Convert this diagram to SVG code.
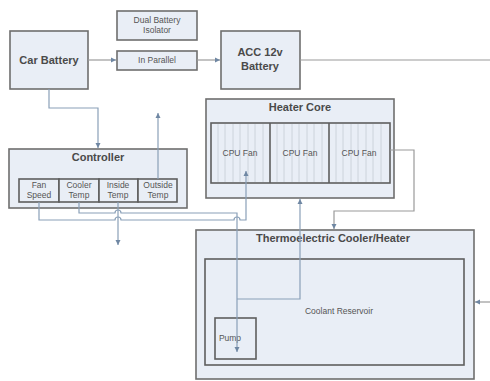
<svg xmlns="http://www.w3.org/2000/svg" width="490" height="381" viewBox="0 0 490 381">
<defs>
<style>
.box{fill:#e9eef6;stroke:#6e6e6e;stroke-width:1.6}
.inner{fill:#e9eef6;stroke:#5e5e5e;stroke-width:1.6}
.t{font-family:"Liberation Sans",Arial,sans-serif;font-weight:bold;font-size:11px;fill:#4a4a4a;text-anchor:middle}
.s{font-family:"Liberation Sans",Arial,sans-serif;font-size:8.5px;fill:#555;text-anchor:middle}
.c{fill:none;stroke:#8aa0b8;stroke-width:1.2}
.g{fill:none;stroke:#9a9a9a;stroke-width:1.2}
.h{stroke:#c4ccd6;stroke-width:0.8}
</style>
<marker id="a" markerWidth="6" markerHeight="6" refX="5" refY="3" orient="auto" markerUnits="userSpaceOnUse">
<path d="M0,0.5 L5,3 L0,5.5 Z" fill="#6f87a3"/>
</marker>
</defs>
<rect width="490" height="381" fill="#fff"/>

<g id="car-battery"><rect class="box" x="10" y="31" width="78" height="58"/><text class="t" x="49" y="64">Car Battery</text></g>
<g id="isolator"><rect class="box" x="117" y="11" width="80" height="29"/><text class="s" x="157" y="23">Dual Battery</text><text class="s" x="157" y="33">Isolator</text></g>
<g id="in-parallel"><rect class="box" x="117" y="51" width="80" height="19"/><text class="s" x="157" y="63">In Parallel</text></g>
<g id="acc-battery"><rect class="box" x="221" y="31" width="79" height="58"/><text class="t" x="260" y="56">ACC 12v</text><text class="t" x="260" y="70">Battery</text></g>

<g id="controller">
<rect class="box" x="9" y="149" width="178" height="59"/>
<text class="t" x="98" y="161">Controller</text>
<rect class="inner" x="19" y="179" width="40" height="23"/>
<rect class="inner" x="59" y="179" width="40" height="23"/>
<rect class="inner" x="99" y="179" width="39" height="23"/>
<rect class="inner" x="138" y="179" width="39" height="23"/>
<text class="s" x="39" y="188">Fan</text><text class="s" x="39" y="198">Speed</text>
<text class="s" x="79" y="188">Cooler</text><text class="s" x="79" y="198">Temp</text>
<text class="s" x="118" y="188">Inside</text><text class="s" x="118" y="198">Temp</text>
<text class="s" x="158" y="188">Outside</text><text class="s" x="158" y="198">Temp</text>
</g>

<g id="heater-core">
<rect class="box" x="206" y="99" width="188" height="99"/>
<text class="t" x="300" y="111">Heater Core</text>
<rect class="inner" x="211" y="123" width="179" height="60"/>
<g class="h">
<line x1="218" y1="124" x2="218" y2="182"/><line x1="225" y1="124" x2="225" y2="182"/><line x1="233" y1="124" x2="233" y2="182"/><line x1="240" y1="124" x2="240" y2="182"/><line x1="248" y1="124" x2="248" y2="182"/><line x1="255" y1="124" x2="255" y2="182"/><line x1="263" y1="124" x2="263" y2="182"/>
<line x1="277" y1="124" x2="277" y2="182"/><line x1="284" y1="124" x2="284" y2="182"/><line x1="292" y1="124" x2="292" y2="182"/><line x1="299" y1="124" x2="299" y2="182"/><line x1="307" y1="124" x2="307" y2="182"/><line x1="314" y1="124" x2="314" y2="182"/><line x1="322" y1="124" x2="322" y2="182"/>
<line x1="336" y1="124" x2="336" y2="182"/><line x1="343" y1="124" x2="343" y2="182"/><line x1="351" y1="124" x2="351" y2="182"/><line x1="358" y1="124" x2="358" y2="182"/><line x1="366" y1="124" x2="366" y2="182"/><line x1="373" y1="124" x2="373" y2="182"/><line x1="381" y1="124" x2="381" y2="182"/>
</g>
<line x1="270" y1="123" x2="270" y2="183" stroke="#5e5e5e" stroke-width="1.6"/>
<line x1="329" y1="123" x2="329" y2="183" stroke="#5e5e5e" stroke-width="1.6"/>
<text class="s" x="240" y="156">CPU Fan</text>
<text class="s" x="300" y="156">CPU Fan</text>
<text class="s" x="359" y="156">CPU Fan</text>
</g>

<g id="thermoelectric">
<rect class="box" x="196" y="230" width="278" height="149"/>
<text class="t" x="333" y="242">Thermoelectric Cooler/Heater</text>
</g>
<g id="coolant-reservoir">
<rect class="inner" x="205" y="259" width="259" height="106"/>
<text class="s" x="339" y="314">Coolant Reservoir</text>
</g>
<g id="pump">
<rect class="inner" x="215" y="318" width="41" height="41"/>
<text class="s" x="230" y="341">Pump</text>
</g>

<g id="connectors">
<path class="g" d="M88,60 H116" marker-end="url(#a)"/>
<path class="g" d="M197,60 H220" marker-end="url(#a)"/>
<path class="g" d="M300,60 H490"/>
<path class="c" d="M49,89 V108 H98 V148" marker-end="url(#a)"/>
<path class="c" d="M158,179 V113" marker-end="url(#a)"/>
<path class="c" d="M118,202 V245" marker-end="url(#a)"/>
<path class="c" d="M79,202 V213 H115 A3,3 0 0 1 121,213 H237 V352" marker-end="url(#a)"/>
<path class="c" d="M39,202 V220 H115 A3,3 0 0 1 121,220 H234 A3,3 0 0 1 240,220 H246 V171" marker-end="url(#a)"/>
<path class="c" d="M237,299 H300 V199" marker-end="url(#a)"/>
<path class="g" d="M390,150 H414 V211 H334 V229" marker-end="url(#a)"/>
<path class="g" d="M490,302 H475" marker-end="url(#a)"/>
</g>
</svg>
